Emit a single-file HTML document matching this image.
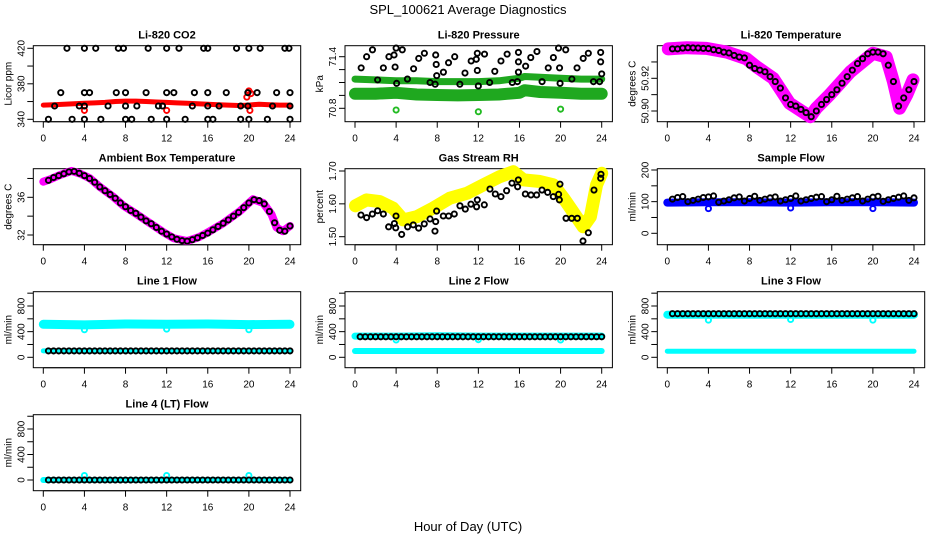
<!DOCTYPE html>
<html><head><meta charset="utf-8"><style>
html,body{margin:0;padding:0;background:#fff;}
svg{display:block;font-family:"Liberation Sans",sans-serif;}
</style></head><body>
<svg id="chart" width="936" height="540" viewBox="0 0 936 540">
<text x="468" y="14" text-anchor="middle" font-size="13">SPL_100621  Average Diagnostics</text>
<text x="468" y="531" text-anchor="middle" font-size="13">Hour of Day (UTC)</text>
</svg>
<script>
// ---------- data ----------
const xTicks = [0,4,8,12,16,20,24];
const hrs48 = [0.5,1,1.5,2,2.5,3,3.5,4,4.5,5,5.5,6,6.5,7,7.5,8,8.5,9,9.5,10,10.5,11,11.5,12,12.5,13,13.5,14,14.5,15,15.5,16,16.5,17,17.5,18,18.5,19,19.5,20,20.5,21,21.5,22,22.5,23,23.5,24];
const hrsBand = [0,4,8,12,16,20,24];

// CO2
const co2RedHrs = [0,1,2,3,4,5,6,7,8,9,10,11,12,13,14,15,16,17,18,19,20,21,22,23,24];
const co2RedVals = [356,356.5,357,357.5,358,358.5,359,360,360.5,360.5,360,359.5,359,358.5,358,357.5,357,356.5,356,355.5,356,357,356.5,356,356];
const co2RedOutHrs = [4,12,19.8,20,20.2,20.1];
const co2RedOutVals = [350,350,365,372,369,350];
const co2BlkHrs = [2.3,4,5.1,7.3,7.8,10.2,12,13.2,15.6,16,18.8,20,21.1,23.5,23.9, 1.7,4,4.5,7.1,8,10,12,12.7,14.7,16,17.8,19.9,20.8,22.7,24, 1.1,3.5,4,6.3,8,9.1,11.2,11.6,14.5,16,17.1,19.2,19.9,22.3,24, 0.5,2.8,4,5.6,8,8.6,10.5,12,13.8,16,16.5,19.2,20,21.8,24];
const co2BlkVals = [420,420,420,420,420,420,420,420,420,420,420,420,420,420,420, 370,370,370,370,370,370,370,370,370,370,370,370,370,370,370, 355,355,355,355,355,355,355,355,355,355,355,355,355,355,355, 340,340,340,340,340,340,340,340,340,340,340,340,340,340,340];

// Pressure
const presBandHrs = [0,2,4,6,8,10,12,14,16,16.5,18,20,22,24];
const presUpper = [71.14,71.13,71.12,71.12,71.11,71.11,71.11,71.12,71.15,71.17,71.16,71.15,71.14,71.14];
const presLower = [70.97,70.97,70.98,70.96,70.955,70.95,70.955,70.96,70.98,71.01,70.99,70.98,70.97,70.97];
const presGreenOutHrs = [4,12,20];
const presGreenOutVals = [70.78,70.76,70.79];
const presBlkHrs = [0.6,1.13,1.7,2.2,2.76,3.3,3.8,3.9,4.0,4.05,4.6,5.1,5.7,6.2,6.75,7.3,7.8,7.85,7.9,7.95,8.6,9.1,9.7,10.2,10.7,11.3,11.8,11.9,11.9,12.0,12.6,13.1,13.6,14.2,14.8,15.3,15.8,15.9,15.9,15.9,16.6,17.1,17.7,18.2,18.8,19.3,19.8,19.9,19.95,20.5,21.1,21.6,22.2,22.7,23.2,23.8,23.9,23.9,24.0];
const presBlkVals = [71.27,71.4,71.48,71.13,71.27,71.4,71.42,71.28,71.5,71.09,71.48,71.14,71.26,71.38,71.44,71.1,71.08,71.42,71.31,71.18,71.22,71.33,71.4,71.08,71.21,71.35,71.37,71.44,71.24,71.06,71.43,71.1,71.23,71.35,71.43,71.1,71.11,71.45,71.34,71.22,71.29,71.39,71.46,71.11,71.27,71.39,71.5,71.27,71.09,71.48,71.14,71.27,71.38,71.44,71.11,71.11,71.45,71.34,71.2];

// Li-820 temperature
const ltBandHrs = [0.1,1.9,3.8,5.8,7.7,8.7,10.3,11.9,13.9,14.5,15.8,17.8,20.0,21.3,22.0,22.6,23.3,23.9];
const ltBandVals = [50.938,50.9387,50.9383,50.936,50.932,50.927,50.92,50.9047,50.8965,50.9017,50.91,50.924,50.9353,50.933,50.918,50.9017,50.91,50.919];
const ltBlkVals = [50.938,50.938,50.9385,50.9387,50.9386,50.9385,50.9383,50.9382,50.9375,50.937,50.936,50.9355,50.934,50.933,50.9325,50.928,50.926,50.925,50.924,50.921,50.918,50.914,50.908,50.904,50.903,50.901,50.899,50.8965,50.9,50.904,50.907,50.91,50.913,50.917,50.921,50.925,50.929,50.932,50.935,50.936,50.936,50.935,50.928,50.918,50.903,50.908,50.913,50.918];

// Ambient
const ambBandHrs = [0.0,0.65,1.6,2.75,3.6,4.54,5.5,6.8,7.8,9.1,10.4,11.7,12.7,14.0,15.2,16.2,17.5,19.1,20.4,21.4,22.2,22.7,23.3,24.0];
const ambBandVals = [37.65,37.9,38.36,38.8,38.5,38.0,37.1,36.06,35.1,34.2,33.24,32.29,31.65,31.36,31.8,32.4,33.24,34.5,35.8,35.4,34.2,32.8,32.4,32.95];
const ambBlkVals = [37.8,38.1,38.3,38.5,38.7,38.75,38.55,38.3,38.0,37.6,37.1,36.7,36.3,35.9,35.4,35.0,34.6,34.3,33.9,33.5,33.2,32.8,32.4,32.1,31.8,31.55,31.4,31.35,31.5,31.7,31.95,32.2,32.55,32.9,33.25,33.6,34.0,34.4,34.9,35.4,35.75,35.65,35.3,34.5,33.3,32.5,32.4,32.95];

// RH
const rhBandHrs = [0.05,1.13,2.4,3.7,4.7,6.0,7.6,9.2,10.9,12.5,14.1,15.4,16.4,18.0,19.3,20.3,21.2,22.2,22.9,23.5,24.0];
const rhBandVals = [1.594,1.612,1.607,1.587,1.551,1.561,1.587,1.617,1.632,1.658,1.683,1.698,1.673,1.668,1.658,1.617,1.576,1.53,1.561,1.658,1.693];
const rhBlkHrs = [0.58,1.13,1.69,2.2,2.76,3.27,3.83,3.96,3.99,4.54,5.12,5.67,6.19,6.74,7.3,7.78,7.85,7.94,8.59,9.11,9.66,10.21,10.73,11.28,11.83,11.9,12.58,13.13,13.65,14.2,14.75,15.27,15.82,15.89,16.57,17.12,17.67,18.19,18.74,19.29,19.81,19.88,19.94,20.53,21.08,21.63,22.18,22.7,23.25,23.9,23.93];
const rhBlkVals = [1.566,1.558,1.569,1.579,1.569,1.53,1.54,1.527,1.563,1.507,1.53,1.536,1.526,1.539,1.554,1.517,1.546,1.578,1.563,1.563,1.569,1.594,1.584,1.599,1.591,1.612,1.597,1.645,1.63,1.622,1.64,1.663,1.652,1.673,1.63,1.627,1.627,1.642,1.635,1.622,1.629,1.612,1.66,1.556,1.556,1.556,1.487,1.512,1.642,1.678,1.69];

// Sample flow
const sfBlueVals = [97,98,98,97,98,98,97];
const sfBlueOutHrs = [4,12,20];
const sfBlueOutVals = [78,80,78];
const sfBlkVals = [108,113,116,100,104,108,113,115,118,98,102,106,112,115,102,110,117,104,108,112,115,102,106,110,118,102,106,110,114,116,100,106,117,104,108,112,116,102,108,114,117,101,106,110,114,118,104,112];

// Line flows
const l1Upper = [515,505,520,515,520,510,515];
const l1Lower = [100,100,100,100,100,100,100];
const l1Black = 100;
const l1OutHrs = [4,12,20];
const l1OutVals = [430,440,430];
const l2Upper = [330,330,335,330,330,330,330];
const l2Lower = [98,98,98,98,98,98,98];
const l2Black = 320;
const l2OutVals = [270,275,270];
const l3Upper = [665,665,665,665,665,665,665];
const l3Lower = [95,95,95,95,95,95,95];
const l3Black = 680;
const l3OutVals = [580,590,580];
const l4Cyan = [0,0,0,0,0,0,0];
const l4Black = 0;
const l4OutVals = [70,70,70];

// ---------- drawing ----------
const NS = "http://www.w3.org/2000/svg";
const svg = document.getElementById('chart');
const X0 = [43.3, 355, 667.3];
const XW = 246.7;
function mk(tag, attrs, parent){
  const e = document.createElementNS(NS, tag);
  for (const k in attrs) e.setAttribute(k, attrs[k]);
  (parent||svg).appendChild(e);
  return e;
}
function panel(cfg){
  const g = mk('g', {});
  
  
  const top = 45.7 + 123*cfg.row;
  const left = X0[cfg.col] - 10;
  const right = X0[cfg.col] + XW + 10.7;
  const bottom = top + 76;
  const xs = h => X0[cfg.col] + h*XW/24;
  const ys = v => top + cfg.pA + (v-cfg.vA)*(cfg.pB-cfg.pA)/(cfg.vB-cfg.vA);
  const t = mk('text', {x:(left+right)/2, y:top-7, 'text-anchor':'middle', 'font-size':11, 'font-weight':'bold'}, g);
  t.textContent = cfg.title;
  
  
  const xl = mk('line', {x1:xs(0), x2:xs(24), y1:bottom, y2:bottom, stroke:'#000'}, g);
  
  
  xTicks.forEach(h => {
    const tk = mk('line', {x1:xs(h), x2:xs(h), y1:bottom, y2:bottom+6, stroke:'#000'}, g);
    
    
    const lb = mk('text', {x:xs(h), y:bottom+20, 'text-anchor':'middle', 'font-size':10}, g);
    lb.textContent = h;
    
    
  });
  cfg.ticks.forEach(v => {
    const tk = mk('line', {x1:left-6, x2:left, y1:ys(v), y2:ys(v), stroke:'#000'}, g);
    
    
  });
  cfg.labels.forEach(v => {
    const yy = ys(v), xx = left-9;
    const lb = mk('text', {x:xx, y:yy, 'text-anchor':'middle', 'font-size':10, transform:`rotate(-90 ${xx} ${yy})`}, g);
    lb.textContent = cfg.fmt ? cfg.fmt(v) : v;
    
    
  });
  const yc = (top+bottom)/2, yx = left-22;
  const yl = mk('text', {x:yx, y:yc, 'text-anchor':'middle', 'font-size':10, transform:`rotate(-90 ${yx} ${yc})`}, g);
  yl.textContent = cfg.ylab;
  
  
  const box = mk('rect', {x:left, y:top, width:right-left, height:76, fill:'none', stroke:'#000'}, g);
  
  
  return {g, xs, ys};
}
function band(p, hs, vs, color, w){
  const pts = hs.map((h,i) => p.xs(h).toFixed(1)+','+p.ys(vs[i]).toFixed(1)).join(' ');
  const pl = mk('polyline', {points:pts, fill:'none', stroke:color, 'stroke-width':w, 'stroke-linecap':'round', 'stroke-linejoin':'round'}, p.g);
  
  
}
function pts(p, hs, vs, color, r){
  hs.forEach((h,i) => {
    const c = mk('circle', {cx:p.xs(h), cy:p.ys(vs[i]), r:r||2.6, fill:'none', stroke:color, 'stroke-width':1.9}, p.g);
    
    
  });
}
const flat = (n, v) => hrs48.map(() => v);

let p = panel({name:'panel-co2', col:0,row:0,title:'Li-820 CO2',ylab:'Licor ppm',vA:340,pA:73.6,vB:420,pB:2.6,ticks:[340,360,380,400,420],labels:[340,380,420]});
band(p, co2RedHrs, co2RedVals, '#ff0000', 5);
pts(p, co2RedOutHrs, co2RedOutVals, '#ff0000');
pts(p, co2BlkHrs, co2BlkVals, '#000');

p = panel({name:'panel-pressure', col:1,row:0,title:'Li-820 Pressure',ylab:'kPa',vA:70.8,pA:62.6,vB:71.4,pB:11.0,ticks:[70.8,70.95,71.1,71.25,71.4],labels:[70.8,71.4],fmt:v=>v.toFixed(1)});
band(p, presBandHrs, presUpper, '#1fa81f', 7);
band(p, presBandHrs, presLower, '#1fa81f', 12);
pts(p, presGreenOutHrs, presGreenOutVals, '#22bb22');
pts(p, presBlkHrs, presBlkVals, '#000');

p = panel({name:'panel-li820-temperature', col:2,row:0,title:'Li-820 Temperature',ylab:'degrees C',vA:50.90,pA:65.3,vB:50.92,pB:32.6,ticks:[50.90,50.91,50.92,50.93],labels:[50.90,50.92],fmt:v=>v.toFixed(2)});
band(p, ltBandHrs, ltBandVals, '#ff00ff', 13);
pts(p, hrs48, ltBlkVals, '#000');

p = panel({name:'panel-ambient-temperature', col:0,row:1,title:'Ambient Box Temperature',ylab:'degrees C',vA:32,pA:66.3,vB:36,pB:28.6,ticks:[32,34,36,38],labels:[32,36]});
band(p, ambBandHrs, ambBandVals, '#ff00ff', 8);
pts(p, hrs48, ambBlkVals, '#000');

p = panel({name:'panel-gas-stream-rh', col:1,row:1,title:'Gas Stream RH',ylab:'percent',vA:1.5,pA:68,vB:1.7,pB:2.3,ticks:[1.5,1.6,1.7],labels:[1.5,1.6,1.7],fmt:v=>v.toFixed(2)});
band(p, rhBandHrs, rhBandVals, '#ffff00', 13);
pts(p, rhBlkHrs, rhBlkVals, '#000');

p = panel({name:'panel-sample-flow', col:2,row:1,title:'Sample Flow',ylab:'ml/min',vA:0,pA:64.6,vB:200,pB:1.3,ticks:[0,50,100,150,200],labels:[0,100,200]});
band(p, hrsBand, sfBlueVals, '#0000ff', 8);
pts(p, sfBlueOutHrs, sfBlueOutVals, '#0000ff');
pts(p, hrs48, sfBlkVals, '#000');

const flowCfg = {vA:0,pA:65.6,vB:800,pB:14.3,ticks:[0,200,400,600,800,1000],labels:[0,400,800],ylab:'ml/min'};
p = panel(Object.assign({name:'panel-line1-flow', col:0,row:2,title:'Line 1 Flow'}, flowCfg));
band(p, hrsBand, l1Upper, '#00ffff', 9);
band(p, hrsBand, l1Lower, '#00ffff', 5);
pts(p, sfBlueOutHrs, l1OutVals, '#00ffff');
pts(p, hrs48, flat(48, l1Black), '#000');

p = panel(Object.assign({name:'panel-line2-flow', col:1,row:2,title:'Line 2 Flow'}, flowCfg));
band(p, hrsBand, l2Upper, '#00ffff', 7);
band(p, hrsBand, l2Lower, '#00ffff', 6);
pts(p, sfBlueOutHrs, l2OutVals, '#00ffff');
pts(p, hrs48, flat(48, l2Black), '#000');

p = panel(Object.assign({name:'panel-line3-flow', col:2,row:2,title:'Line 3 Flow'}, flowCfg));
band(p, hrsBand, l3Upper, '#00ffff', 8);
band(p, hrsBand, l3Lower, '#00ffff', 5);
pts(p, sfBlueOutHrs, l3OutVals, '#00ffff');
pts(p, hrs48, flat(48, l3Black), '#000');

p = panel(Object.assign({name:'panel-line4-flow', col:0,row:3,title:'Line 4 (LT) Flow'}, flowCfg, {pA:65.3}));
band(p, hrsBand, l4Cyan, '#00ffff', 6);
pts(p, sfBlueOutHrs, l4OutVals, '#00ffff');
pts(p, hrs48, flat(48, l4Black), '#000');
</script>
</body></html>
